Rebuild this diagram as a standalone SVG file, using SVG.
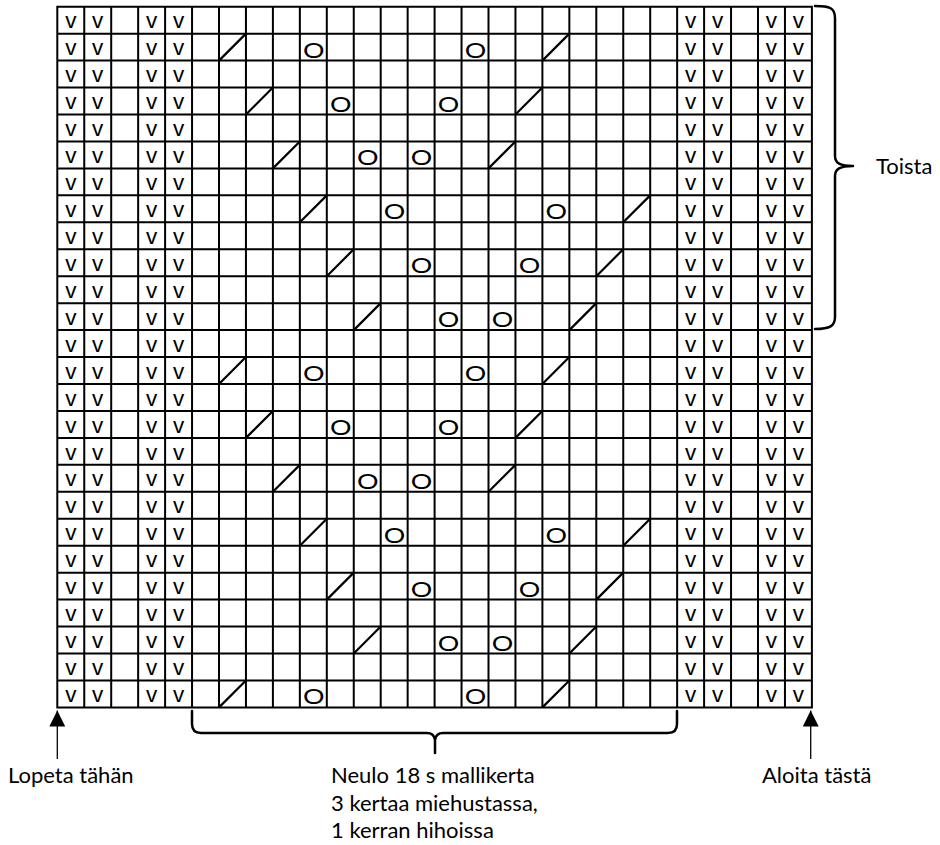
<svg xmlns="http://www.w3.org/2000/svg" width="940" height="845" viewBox="0 0 940 845">
<style>
.grid{fill:none;stroke:#000;stroke-width:2;stroke-linecap:square}
.v{font-family:"Liberation Sans",Arial,sans-serif;font-size:22.5px;text-anchor:middle;fill:#000}
.o{font-family:Lato,"Liberation Sans",sans-serif;font-size:21.5px;text-anchor:middle;fill:#000}
.sl{fill:none;stroke:#000;stroke-width:2.2}
.brace{fill:none;stroke:#000;stroke-width:2.5;stroke-linecap:round;stroke-linejoin:round}
.arr{stroke:#000;stroke-width:1.3;marker-end:url(#ah)}
.lbl{font-family:Lato,"Noto Sans",sans-serif;font-size:22px;fill:#000}
</style>
<defs>
<marker id="ah" viewBox="0 0 16 16" refX="16" refY="8" markerWidth="16" markerHeight="16" markerUnits="userSpaceOnUse" orient="auto"><path d="M0,0 L16,8 L0,16 z" fill="#000"/></marker>
</defs>
<rect width="940" height="845" fill="#fff"/>
<g id="grid">
<path class="grid" d="M57.3,6.7V707.4M84.25,6.7V707.4M111.2,6.7V707.4M138.15,6.7V707.4M165.1,6.7V707.4M192.05,6.7V707.4M219,6.7V707.4M245.95,6.7V707.4M272.9,6.7V707.4M299.85,6.7V707.4M326.8,6.7V707.4M353.75,6.7V707.4M380.7,6.7V707.4M407.65,6.7V707.4M434.6,6.7V707.4M461.55,6.7V707.4M488.5,6.7V707.4M515.45,6.7V707.4M542.4,6.7V707.4M569.35,6.7V707.4M596.3,6.7V707.4M623.25,6.7V707.4M650.2,6.7V707.4M677.15,6.7V707.4M704.1,6.7V707.4M731.05,6.7V707.4M758,6.7V707.4M784.95,6.7V707.4M811.9,6.7V707.4
M57.3,6.7H811.9M57.3,33.65H811.9M57.3,60.6H811.9M57.3,87.55H811.9M57.3,114.5H811.9M57.3,141.45H811.9M57.3,168.4H811.9M57.3,195.35H811.9M57.3,222.3H811.9M57.3,249.25H811.9M57.3,276.2H811.9M57.3,303.15H811.9M57.3,330.1H811.9M57.3,357.05H811.9M57.3,384H811.9M57.3,410.95H811.9M57.3,437.9H811.9M57.3,464.85H811.9M57.3,491.8H811.9M57.3,518.75H811.9M57.3,545.7H811.9M57.3,572.65H811.9M57.3,599.6H811.9M57.3,626.55H811.9M57.3,653.5H811.9M57.3,680.45H811.9M57.3,707.4H811.9"/>
</g>
<g id="slip-stitches" class="v">
<g transform="translate(0,28.3)"><text x="70.78">v</text><text x="97.73">v</text><text x="151.63">v</text><text x="178.58">v</text><text x="690.63">v</text><text x="717.58">v</text><text x="771.48">v</text><text x="798.43">v</text></g>
<g transform="translate(0,55.25)"><text x="70.78">v</text><text x="97.73">v</text><text x="151.63">v</text><text x="178.58">v</text><text x="690.63">v</text><text x="717.58">v</text><text x="771.48">v</text><text x="798.43">v</text></g>
<g transform="translate(0,82.2)"><text x="70.78">v</text><text x="97.73">v</text><text x="151.63">v</text><text x="178.58">v</text><text x="690.63">v</text><text x="717.58">v</text><text x="771.48">v</text><text x="798.43">v</text></g>
<g transform="translate(0,109.15)"><text x="70.78">v</text><text x="97.73">v</text><text x="151.63">v</text><text x="178.58">v</text><text x="690.63">v</text><text x="717.58">v</text><text x="771.48">v</text><text x="798.43">v</text></g>
<g transform="translate(0,136.1)"><text x="70.78">v</text><text x="97.73">v</text><text x="151.63">v</text><text x="178.58">v</text><text x="690.63">v</text><text x="717.58">v</text><text x="771.48">v</text><text x="798.43">v</text></g>
<g transform="translate(0,163.05)"><text x="70.78">v</text><text x="97.73">v</text><text x="151.63">v</text><text x="178.58">v</text><text x="690.63">v</text><text x="717.58">v</text><text x="771.48">v</text><text x="798.43">v</text></g>
<g transform="translate(0,190)"><text x="70.78">v</text><text x="97.73">v</text><text x="151.63">v</text><text x="178.58">v</text><text x="690.63">v</text><text x="717.58">v</text><text x="771.48">v</text><text x="798.43">v</text></g>
<g transform="translate(0,216.95)"><text x="70.78">v</text><text x="97.73">v</text><text x="151.63">v</text><text x="178.58">v</text><text x="690.63">v</text><text x="717.58">v</text><text x="771.48">v</text><text x="798.43">v</text></g>
<g transform="translate(0,243.9)"><text x="70.78">v</text><text x="97.73">v</text><text x="151.63">v</text><text x="178.58">v</text><text x="690.63">v</text><text x="717.58">v</text><text x="771.48">v</text><text x="798.43">v</text></g>
<g transform="translate(0,270.85)"><text x="70.78">v</text><text x="97.73">v</text><text x="151.63">v</text><text x="178.58">v</text><text x="690.63">v</text><text x="717.58">v</text><text x="771.48">v</text><text x="798.43">v</text></g>
<g transform="translate(0,297.8)"><text x="70.78">v</text><text x="97.73">v</text><text x="151.63">v</text><text x="178.58">v</text><text x="690.63">v</text><text x="717.58">v</text><text x="771.48">v</text><text x="798.43">v</text></g>
<g transform="translate(0,324.75)"><text x="70.78">v</text><text x="97.73">v</text><text x="151.63">v</text><text x="178.58">v</text><text x="690.63">v</text><text x="717.58">v</text><text x="771.48">v</text><text x="798.43">v</text></g>
<g transform="translate(0,351.7)"><text x="70.78">v</text><text x="97.73">v</text><text x="151.63">v</text><text x="178.58">v</text><text x="690.63">v</text><text x="717.58">v</text><text x="771.48">v</text><text x="798.43">v</text></g>
<g transform="translate(0,378.65)"><text x="70.78">v</text><text x="97.73">v</text><text x="151.63">v</text><text x="178.58">v</text><text x="690.63">v</text><text x="717.58">v</text><text x="771.48">v</text><text x="798.43">v</text></g>
<g transform="translate(0,405.6)"><text x="70.78">v</text><text x="97.73">v</text><text x="151.63">v</text><text x="178.58">v</text><text x="690.63">v</text><text x="717.58">v</text><text x="771.48">v</text><text x="798.43">v</text></g>
<g transform="translate(0,432.55)"><text x="70.78">v</text><text x="97.73">v</text><text x="151.63">v</text><text x="178.58">v</text><text x="690.63">v</text><text x="717.58">v</text><text x="771.48">v</text><text x="798.43">v</text></g>
<g transform="translate(0,459.5)"><text x="70.78">v</text><text x="97.73">v</text><text x="151.63">v</text><text x="178.58">v</text><text x="690.63">v</text><text x="717.58">v</text><text x="771.48">v</text><text x="798.43">v</text></g>
<g transform="translate(0,486.45)"><text x="70.78">v</text><text x="97.73">v</text><text x="151.63">v</text><text x="178.58">v</text><text x="690.63">v</text><text x="717.58">v</text><text x="771.48">v</text><text x="798.43">v</text></g>
<g transform="translate(0,513.4)"><text x="70.78">v</text><text x="97.73">v</text><text x="151.63">v</text><text x="178.58">v</text><text x="690.63">v</text><text x="717.58">v</text><text x="771.48">v</text><text x="798.43">v</text></g>
<g transform="translate(0,540.35)"><text x="70.78">v</text><text x="97.73">v</text><text x="151.63">v</text><text x="178.58">v</text><text x="690.63">v</text><text x="717.58">v</text><text x="771.48">v</text><text x="798.43">v</text></g>
<g transform="translate(0,567.3)"><text x="70.78">v</text><text x="97.73">v</text><text x="151.63">v</text><text x="178.58">v</text><text x="690.63">v</text><text x="717.58">v</text><text x="771.48">v</text><text x="798.43">v</text></g>
<g transform="translate(0,594.25)"><text x="70.78">v</text><text x="97.73">v</text><text x="151.63">v</text><text x="178.58">v</text><text x="690.63">v</text><text x="717.58">v</text><text x="771.48">v</text><text x="798.43">v</text></g>
<g transform="translate(0,621.2)"><text x="70.78">v</text><text x="97.73">v</text><text x="151.63">v</text><text x="178.58">v</text><text x="690.63">v</text><text x="717.58">v</text><text x="771.48">v</text><text x="798.43">v</text></g>
<g transform="translate(0,648.15)"><text x="70.78">v</text><text x="97.73">v</text><text x="151.63">v</text><text x="178.58">v</text><text x="690.63">v</text><text x="717.58">v</text><text x="771.48">v</text><text x="798.43">v</text></g>
<g transform="translate(0,675.1)"><text x="70.78">v</text><text x="97.73">v</text><text x="151.63">v</text><text x="178.58">v</text><text x="690.63">v</text><text x="717.58">v</text><text x="771.48">v</text><text x="798.43">v</text></g>
<g transform="translate(0,702.05)"><text x="70.78">v</text><text x="97.73">v</text><text x="151.63">v</text><text x="178.58">v</text><text x="690.63">v</text><text x="717.58">v</text><text x="771.48">v</text><text x="798.43">v</text></g>
</g>
<g id="decreases">
<path class="sl" d="M219,60.6L245.95,33.65M542.4,60.6L569.35,33.65
M245.95,114.5L272.9,87.55M515.45,114.5L542.4,87.55
M272.9,168.4L299.85,141.45M488.5,168.4L515.45,141.45
M299.85,222.3L326.8,195.35M623.25,222.3L650.2,195.35
M326.8,276.2L353.75,249.25M596.3,276.2L623.25,249.25
M353.75,330.1L380.7,303.15M569.35,330.1L596.3,303.15
M219,384L245.95,357.05M542.4,384L569.35,357.05
M245.95,437.9L272.9,410.95M515.45,437.9L542.4,410.95
M272.9,491.8L299.85,464.85M488.5,491.8L515.45,464.85
M299.85,545.7L326.8,518.75M623.25,545.7L650.2,518.75
M326.8,599.6L353.75,572.65M596.3,599.6L623.25,572.65
M353.75,653.5L380.7,626.55M569.35,653.5L596.3,626.55
M219,707.4L245.95,680.45M542.4,707.4L569.35,680.45"/>
</g>
<g id="yarn-overs" class="o">
<text transform="translate(313.8,57.6) scale(1.25,1)">O</text><text transform="translate(475.5,57.6) scale(1.25,1)">O</text>
<text transform="translate(340.7,111.5) scale(1.25,1)">O</text><text transform="translate(448.5,111.5) scale(1.25,1)">O</text>
<text transform="translate(367.7,165.4) scale(1.25,1)">O</text><text transform="translate(421.6,165.4) scale(1.25,1)">O</text>
<text transform="translate(394.6,219.3) scale(1.25,1)">O</text><text transform="translate(556.3,219.3) scale(1.25,1)">O</text>
<text transform="translate(421.6,273.2) scale(1.25,1)">O</text><text transform="translate(529.4,273.2) scale(1.25,1)">O</text>
<text transform="translate(448.5,327.1) scale(1.25,1)">O</text><text transform="translate(502.4,327.1) scale(1.25,1)">O</text>
<text transform="translate(313.8,381) scale(1.25,1)">O</text><text transform="translate(475.5,381) scale(1.25,1)">O</text>
<text transform="translate(340.7,434.9) scale(1.25,1)">O</text><text transform="translate(448.5,434.9) scale(1.25,1)">O</text>
<text transform="translate(367.7,488.8) scale(1.25,1)">O</text><text transform="translate(421.6,488.8) scale(1.25,1)">O</text>
<text transform="translate(394.6,542.7) scale(1.25,1)">O</text><text transform="translate(556.3,542.7) scale(1.25,1)">O</text>
<text transform="translate(421.6,596.6) scale(1.25,1)">O</text><text transform="translate(529.4,596.6) scale(1.25,1)">O</text>
<text transform="translate(448.5,650.5) scale(1.25,1)">O</text><text transform="translate(502.4,650.5) scale(1.25,1)">O</text>
<text transform="translate(313.8,704.4) scale(1.25,1)">O</text><text transform="translate(475.5,704.4) scale(1.25,1)">O</text>
</g>
<g id="repeat-brace">
<path class="brace" d="M815,6 C830,6 835,8 835,18 L835,156 C835,163 840,166 853,166 C840,166 835,169 835,176 L835,317 C835,326 830,329 815,329"/>
<text class="lbl" x="876" y="173.5">Toista</text>
</g>
<g id="pattern-brace">
<path class="brace" d="M192,711 L192,724 Q192,733 201,733 L427,733 Q434,733 435,740 L435,753 M435,740 Q436,733 443,733 L668,733 Q677,733 677,724 L677,711"/>
<text class="lbl" x="331" y="783.3">Neulo 18 s mallikerta</text>
<text class="lbl" x="331" y="810.5">3 kertaa miehustassa,</text>
<text class="lbl" x="331" y="837.7">1 kerran hihoissa</text>
</g>
<g id="end-arrow">
<line class="arr" x1="57.3" y1="759" x2="57.3" y2="710.5"/>
<text class="lbl" x="8" y="783.3">Lopeta tähän</text>
</g>
<g id="start-arrow">
<line class="arr" x1="810.7" y1="759" x2="810.7" y2="710.5"/>
<text class="lbl" x="762" y="783.3">Aloita tästä</text>
</g>
</svg>
